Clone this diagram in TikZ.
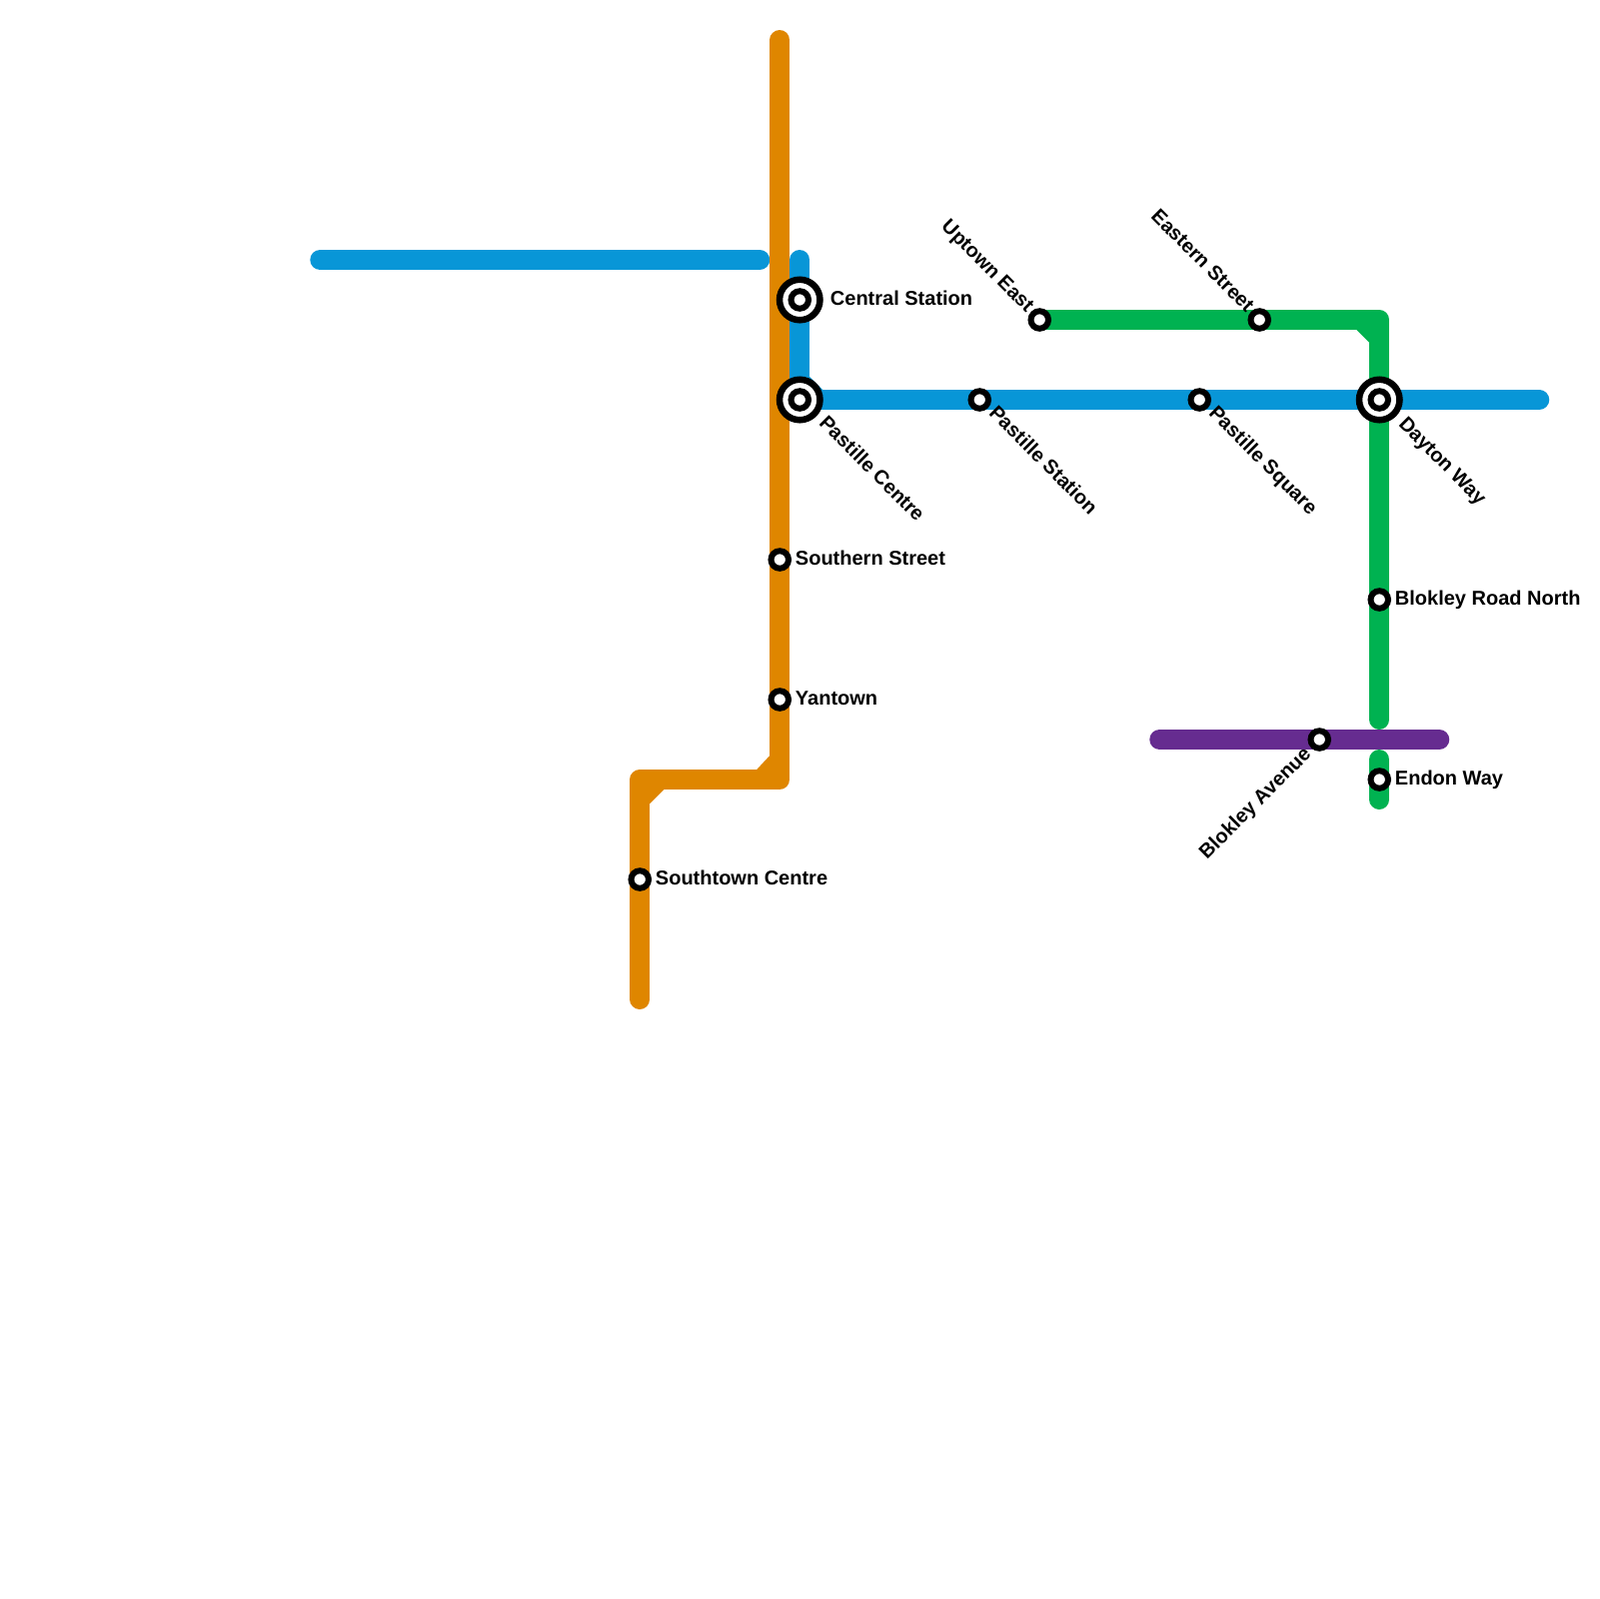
\documentclass[tikz,border=0pt]{standalone}
\usepackage{fontspec}
\setmainfont{Liberation Sans}
\usetikzlibrary{calc}

\begin{document}
\begin{tikzpicture}[
    x=0.1mm, y=-0.1mm,
    line/.style={line width=2mm, line cap=round, line join=round},
    stop/.style={circle, draw=black, fill=white, line width=0.6mm, minimum size=1.75mm, inner sep=0pt},
    hub/.style={circle, draw=black, fill=white, line width=0.65mm, minimum size=4.05mm, inner sep=0pt},
    stnlabel/.style={font=\fontsize{5.69pt}{7pt}\selectfont\bfseries, text=black, inner sep=0pt},
]

\definecolor{lineBlue}{HTML}{0896D7}   % blue
\definecolor{lineOrange}{HTML}{DF8600} % orange
\definecolor{lineGreen}{HTML}{00B251}  % green
\definecolor{linePurple}{HTML}{662C90} % purple

\useasboundingbox (-0.25,0) rectangle (1599.75,1600);

% ============================================================
% LINE ENDS AND CORNERS
% ============================================================
\coordinate (blueWestA) at (320,260);
\coordinate (blueWestB) at (760,260);
\coordinate (blueNorth) at (800,260);
\coordinate (blueEast) at (1540,400);
\coordinate (orangeNorth) at (780,40);
\coordinate (orangeBendA) at (780,780);
\coordinate (orangeBendB) at (640,780);
\coordinate (orangeSouth) at (640,1000);
\coordinate (greenBend) at (1380,320);
\coordinate (greenSouthA) at (1380,720);
\coordinate (greenNorthB) at (1380,760);
\coordinate (greenSouthB) at (1380,800);
\coordinate (purpleWest) at (1160,740);
\coordinate (purpleEast) at (1440,740);

% ============================================================
% STATIONS
% ============================================================
\coordinate (central) at (800,300);
\coordinate (pastilleCentre) at (800,400);
\coordinate (daytonWay) at (1380,400);
\coordinate (uptownEast) at (1040,320);
\coordinate (easternStreet) at (1260,320);
\coordinate (pastilleStation) at (980,400);
\coordinate (pastilleSquare) at (1200,400);
\coordinate (southernStreet) at (780,560);
\coordinate (yantown) at (780,700);
\coordinate (southtownCentre) at (640,880);
\coordinate (blokleyNorth) at (1380,600);
\coordinate (blokleyAvenue) at (1320,740);
\coordinate (endonWay) at (1380,780);

% ============================================================
% LINES
% ============================================================
% blue
\draw[line, lineBlue] (blueWestA) -- (blueWestB);
\draw[line, lineBlue] (blueNorth) -- (pastilleCentre) -- (blueEast);
\fill[lineBlue] (805,377) -- (810,377) -- (823,390) -- (823,395) -- (805,395) -- cycle;

% orange
\draw[line, lineOrange] (orangeNorth) -- (orangeBendA) -- (orangeBendB) -- (orangeSouth);
\fill[lineOrange] (775,756) -- (770,756) -- (757,770) -- (757,775) -- (775,775) -- cycle;
\fill[lineOrange] (645,804) -- (650,804) -- (664,790) -- (664,785) -- (645,785) -- cycle;

% green
\draw[line, lineGreen] (uptownEast) -- (greenBend) -- (greenSouthA);
\draw[line, lineGreen] (greenNorthB) -- (greenSouthB);
\fill[lineGreen] (1357,325) -- (1357,330) -- (1370,343) -- (1375,343) -- (1375,325) -- cycle;

% purple
\draw[line, linePurple] (purpleWest) -- (purpleEast);

% ============================================================
% STATION MARKERS
% ============================================================
\foreach \stn in {central, pastilleCentre, daytonWay} {
    \node[hub] (\stn Hub) at (\stn) {};
    \node[stop] (\stn Stop) at (\stn) {};
}
\foreach \stn in {uptownEast, easternStreet, pastilleStation, pastilleSquare,
                  southernStreet, yantown, southtownCentre, blokleyNorth,
                  blokleyAvenue, endonWay} {
    \node[stop] (\stn Stop) at (\stn) {};
}

% ============================================================
% STATION LABELS
% ============================================================
% horizontal
\node[stnlabel, anchor=base west] (centralLabel) at ($(central)+(30,5)$) {Central Station};
\node[stnlabel, anchor=base west] (southernLabel) at ($(southernStreet)+(15,5)$) {Southern Street};
\node[stnlabel, anchor=base west] (yantownLabel) at ($(yantown)+(15,5)$) {Yantown};
\node[stnlabel, anchor=base west] (southtownLabel) at ($(southtownCentre)+(15,5)$) {Southtown Centre};
\node[stnlabel, anchor=base west] (blokleyNorthLabel) at ($(blokleyNorth)+(15,5)$) {Blokley Road North};
\node[stnlabel, anchor=base west] (endonLabel) at ($(endonWay)+(15,5)$) {Endon Way};

% down and to the right
\node[stnlabel, anchor=base west, rotate=-45] (pastilleCentreLabel) at ($(pastilleCentre)+(18,24)$) {Pastille Centre};
\node[stnlabel, anchor=base west, rotate=-45] (pastilleStationLabel) at ($(pastilleStation)+(8,14)$) {Pastille Station};
\node[stnlabel, anchor=base west, rotate=-45] (pastilleSquareLabel) at ($(pastilleSquare)+(8,14)$) {Pastille Square};
\node[stnlabel, anchor=base west, rotate=-45] (daytonLabel) at ($(daytonWay)+(18,25)$) {Dayton Way};

% up and to the left
\node[stnlabel, anchor=base east, rotate=-45] (uptownLabel) at ($(uptownEast)+(-13,-6)$) {Uptown East};
\node[stnlabel, anchor=base east, rotate=-45] (easternLabel) at ($(easternStreet)+(-13,-6)$) {Eastern Street};

% down and to the left
\node[stnlabel, anchor=base east, rotate=45] (blokleyAvenueLabel) at ($(blokleyAvenue)+(-7,15)$) {Blokley Avenue};

\end{tikzpicture}
\end{document}
